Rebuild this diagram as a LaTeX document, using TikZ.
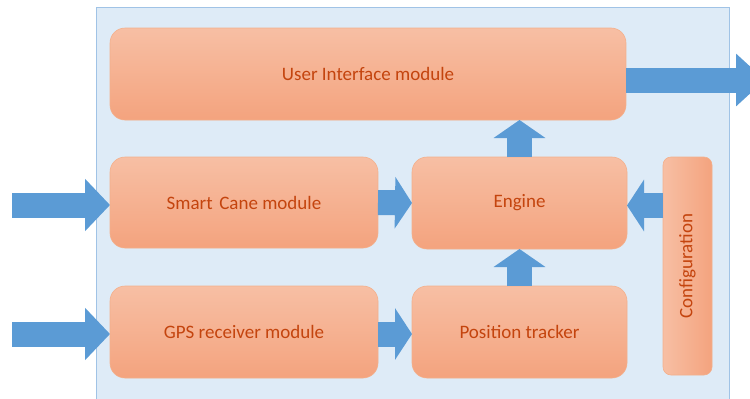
\documentclass[tikz,border=0pt]{standalone}
\usepackage{fontspec}
\setmainfont{Carlito}
\usetikzlibrary{arrows.meta,calc}
\definecolor{boxtop}{RGB}{247,191,164}
\definecolor{boxbot}{RGB}{244,163,126}
\definecolor{boxline}{RGB}{243,176,140}
\definecolor{txtc}{RGB}{196,68,14}
\definecolor{arrc}{RGB}{91,155,213}
\definecolor{panelfill}{RGB}{222,235,247}
\definecolor{panelline}{RGB}{160,195,230}
\tikzset{
  modbox/.style={draw=boxline, line width=0.6pt, top color=boxtop, bottom color=boxbot,
    rounded corners=15pt, inner sep=0pt, outer sep=0pt, anchor=north west,
    text=txtc, font=\fontsize{19}{22}\selectfont},
  cfgbox/.style={draw=boxline, line width=0.6pt, left color=boxtop, right color=boxbot,
    rounded corners=8pt, inner sep=0pt, outer sep=0pt, anchor=north west},
  blockarr/.style={draw=arrc, line width=25pt,
    -{Triangle[length=#1, width=51pt]}},
  blockarr/.default=17pt
}
\begin{document}
\begin{tikzpicture}[x=1pt,y=-1pt]
\clip (0,0) rectangle (750,399);
\useasboundingbox (0,0) rectangle (750,399);
% panel
\path[fill=panelfill, draw=panelline, line width=1pt] (96.5,7.5) rectangle (729,410);
% boxes
\node[modbox, minimum width=516pt, minimum height=92pt] (ui) at (110,28) {User Interface module};
\node[modbox, minimum width=268pt, minimum height=91pt] (sc) at (110,157) {Smart\hspace{0.12em} Cane module};
\node[modbox, minimum width=268pt, minimum height=92pt] (gps) at (110,286) {GPS receiver module};
\node[modbox, minimum width=215pt, minimum height=92pt] (eng) at (412,157) {Engine};
\node[modbox, minimum width=215pt, minimum height=92pt] (pt) at (412,286) {Position tracker};
\node[cfgbox, minimum width=49pt, minimum height=218pt] (cfg) at (663,157) {};
\node[rotate=90, text=txtc, font=\fontsize{19}{22}\selectfont] (cfgtxt) at (cfg.center) {Configuration};
% free ends
\coordinate (inSC) at (12,205);
\coordinate (inGPS) at (12,334);
\coordinate (outUI) at (765,80);
% arrows
\draw[blockarr=25pt] (inSC) -- (sc.west |- inSC);
\draw[blockarr=25pt] (inGPS) -- (gps.west |- inGPS);
\draw[blockarr] (sc.east) -- (eng.west);
\draw[blockarr] (gps.east |- inGPS) -- (pt.west |- inGPS);
\draw[blockarr=18pt] (pt.north) -- (eng.south);
\draw[blockarr=18pt] (eng.north) -- (ui.south -| eng.north);
\draw[blockarr] ($(cfg.west |- eng.east)+(0,2.5)$) -- ($(eng.east)+(0,2.5)$);
\draw[blockarr=29pt] (ui.east |- outUI) -- (outUI);
\end{tikzpicture}
\end{document}
